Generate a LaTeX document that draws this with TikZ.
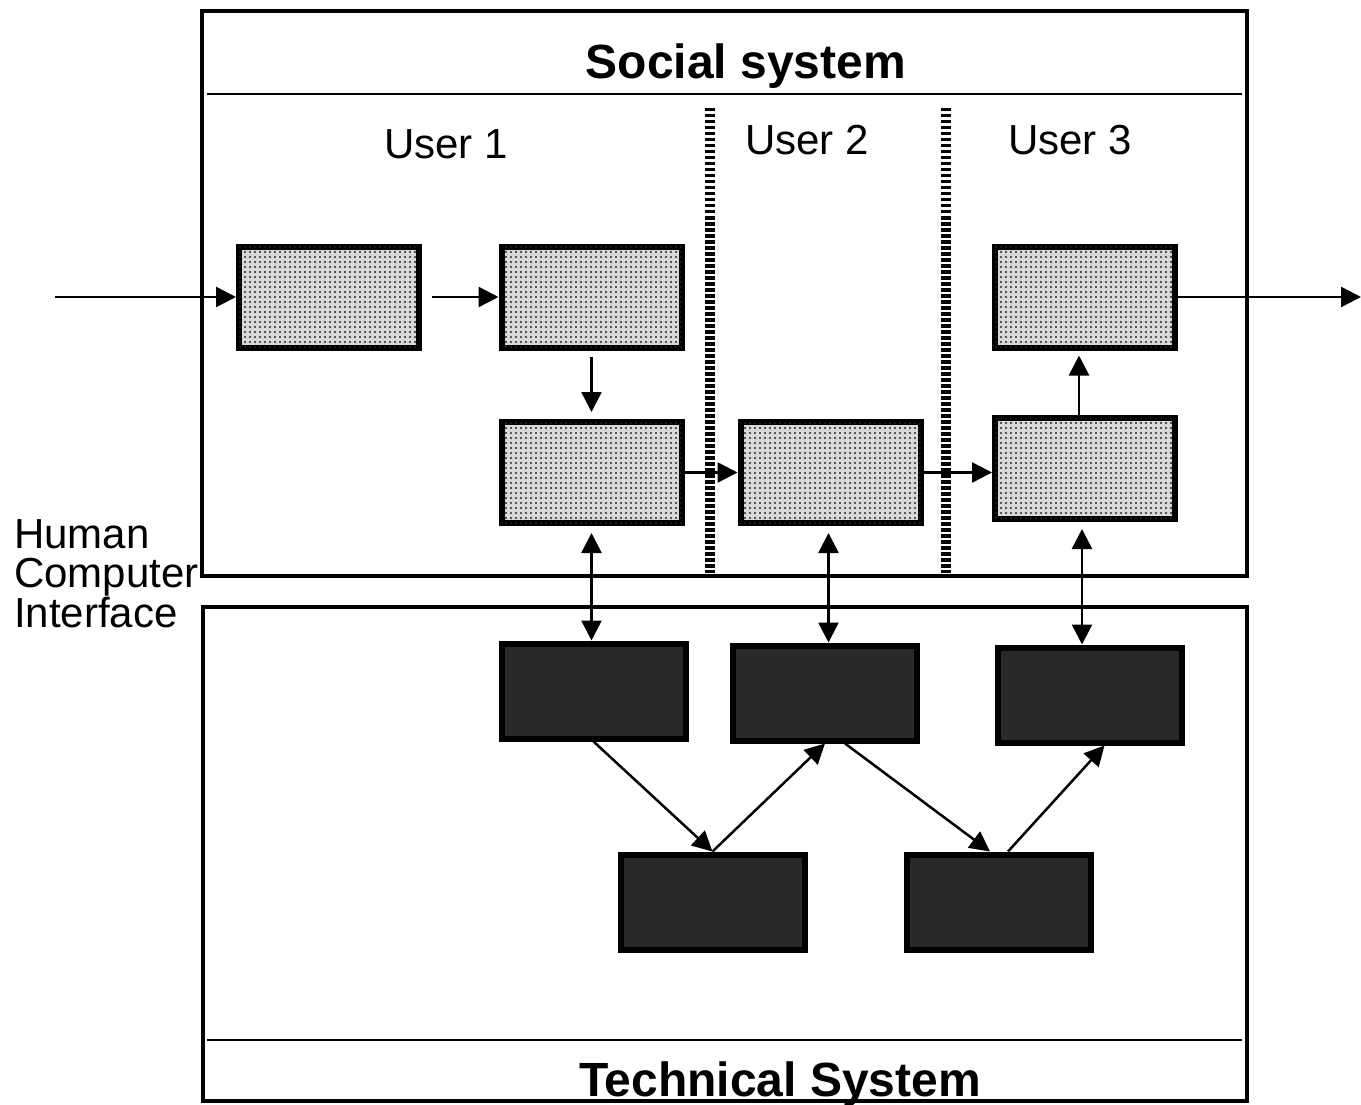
\documentclass[tikz,border=0pt]{standalone}
\usepackage{fontspec}
\setmainfont{Liberation Sans}
\usepackage{tikz}
\usetikzlibrary{positioning}
\usetikzlibrary{patterns}
\usetikzlibrary{arrows.meta}
\tikzset{>=stealth}
\pgfdeclarepatternformonly{stipple}{\pgfpointorigin}{\pgfqpoint{4.5pt}{4.5pt}}{\pgfqpoint{4.5pt}{4.5pt}}
{
  \pgfpathcircle{\pgfqpoint{2.25pt}{2.25pt}}{1.3pt}
  \pgfusepath{fill}
}
\tikzstyle{task} = [draw, line width=6pt, fill=gray!30,
postaction={pattern=stipple, pattern color=black!85},
minimum width=180pt, minimum height=101pt, inner sep=0pt]
\tikzstyle{module} = [draw, line width=6pt, fill=black!84,
minimum width=184pt, minimum height=95pt, inner sep=0pt]
\tikzstyle{line} = [draw, line width=2.5pt, -{Triangle[length=20pt,width=20pt]}]
\tikzstyle{both} = [draw, line width=2.5pt,
{Triangle[length=20pt,width=20pt]}-{Triangle[length=20pt,width=20pt]}]
\tikzstyle{frame} = [draw, line width=4.5pt]
\tikzstyle{rule} = [draw, line width=2pt]
\tikzstyle{lane} = [draw, line width=10pt, dash pattern=on 3.5pt off 2.5pt]
\tikzstyle{title} = [font=\bfseries\fontsize{48}{48}\selectfont, anchor=base, inner sep=0pt]
\tikzstyle{user} = [font=\fontsize{42}{42}\selectfont, anchor=base, inner sep=0pt]

\begin{document}
\begin{tikzpicture}[x=1pt, y=-1pt]
      \useasboundingbox (0,0) rectangle (1361,1105);
      %% Frames
      \path [frame] (202,11) rectangle (1247,576);
      \path [frame] (203,607) rectangle (1247,1101);
      \path [rule] (207,94) -- (1242,94);
      \path [rule] (207,1040) -- (1242,1040);
      \node [title] (social) at (746,79) {Social system};
      \node [title] (technical) at (780,1096) {Technical System};
      %% Users
      \path [lane] (710,108) -- (710,573);
      \path [lane] (946,108) -- (946,573);
      \node [user] (U1) at (446,159) {User 1};
      \node [user] (U2) at (807,155) {User 2};
      \node [user] (U3) at (1070,155) {User 3};
      \node [font=\fontsize{42}{39}\selectfont, align=left, anchor=west, inner sep=0pt]
        (hci) at (14,574) {Human\\Computer\\Interface};
      %% Tasks
      \node [task] (A1) at (329,297) {};
      \node [task] (A2) at (591.5,297) {};
      \node [task] (A3) at (591.5,472.5) {};
      \node [task] (B1) at (830.5,472.5) {};
      \node [task] (C1) at (1085,468.5) {};
      \node [task] (C2) at (1085,297) {};
      %% Modules
      \node [module] (D1) at (593.5,691) {};
      \node [module] (D2) at (825,693) {};
      \node [module] (D3) at (1089.5,695) {};
      \node [module] (E1) at (712.5,902) {};
      \node [module] (E2) at (999,902) {};
      \coordinate (in) at (55,297);
      \coordinate (out) at (1361,297);
      %% Flows
      \path [line] (in) -- (A1.west);
      \path [line, shorten <=10pt] (A1.east) -- (A2.west);
      \path [line, shorten <=6pt, shorten >=7pt] (A2.south) -- (A3.north);
      \path [line] (A3.east) -- (B1.west);
      \path [line] (B1.east) -- (B1.east -| C1.west);
      \path [line, shorten >=5pt] ([xshift=-6pt]C1.north) -- ([xshift=-6pt]C2.south);
      \path [line] (C2.east) -- (out);
      %% Interface
      \path [both, shorten <=7pt] (A3.south) -- (A3.south |- D1.north);
      \path [both, shorten <=7pt] ([xshift=-2pt]B1.south) -- ([xshift=-2pt]B1.south |- D2.north);
      \path [both, shorten <=7pt] ([xshift=-3pt]C1.south) -- ([xshift=-3pt]C1.south |- D3.north);
      \path [line] (D1.south) -- (E1.north);
      \path [line] (E1.north) -- (D2.south);
      \path [line] ([xshift=20pt]D2.south) -- ([xshift=-9pt]E2.north);
      \path [line] ([xshift=9pt]E2.north) -- ([xshift=15pt]D3.south);
    \end{tikzpicture}
\end{document}
